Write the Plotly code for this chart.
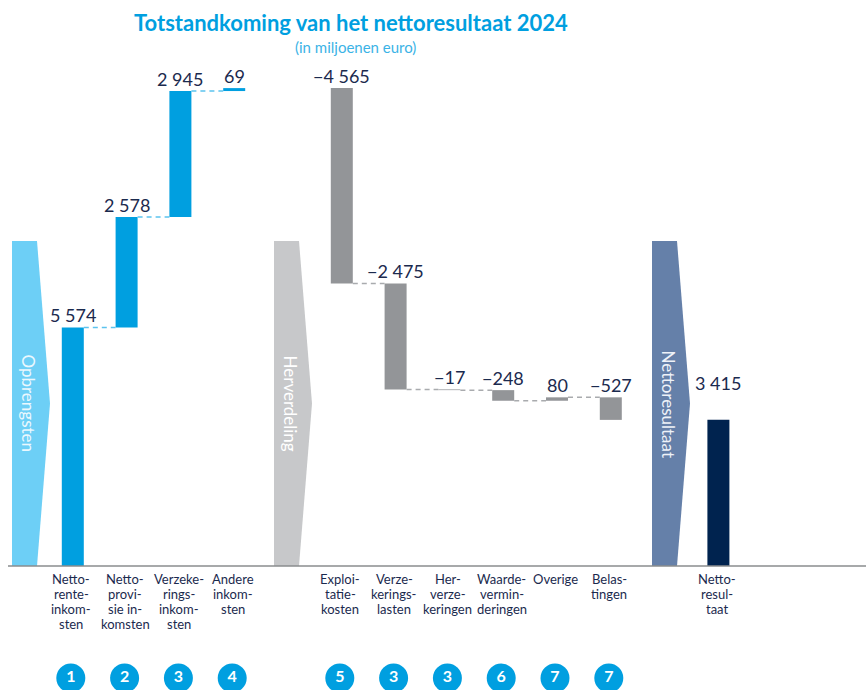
import plotly.graph_objects as go

# ---- data (in miljoenen euro) ----
income_labels = ["Netto-<br>rente-<br>inkom-<br>sten", "Netto-<br>provi-<br>sie in-<br>komsten",
                 "Verzeke-<br>rings-<br>inkom-<br>sten", "Andere<br>inkom-<br>sten"]
income_values = [5574, 2578, 2945, 69]
income_notes = [1, 2, 3, 4]

cost_labels = ["Exploi-<br>tatie-<br>kosten", "Verze-<br>kerings-<br>lasten", "Her-<br>verze-<br>keringen",
               "Waarde-<br>vermin-<br>deringen", "Overige", "Belas-<br>tingen"]
cost_values = [-4565, -2475, -17, -248, 80, -527]
cost_notes = [5, 3, 3, 6, 7, 7]

result_label = "Netto-<br>resul-<br>taat"
result_value = 3415

group_names = ["Opbrengsten", "Herverdeling", "Nettoresultaat"]

# ---- layout constants (pixels) ----
W, H = 866, 690
BASE_PX = 566          # pixel row of the zero line
K = 0.0428             # pixels per million euro
SLOT0, SLOT = 72.8, 53.8
BAR_W = 22
LINE_H = 15.2          # line spacing of the category labels


def val_at(ypx):
    return (BASE_PX - ypx) / K


def fmt(v):
    s = f"{abs(v):,}".replace(",", " ")
    return ("−" + s) if v < 0 else s


BLUE = "#009FE0"
BLUE_DASH = "#5CC3EE"
GREY = "#939598"
GREY_DASH = "#A9ABAE"
NAVY = "#00234F"
TEXT = "#1B2A4E"
FONT = "Lato"

fig = go.Figure()

# slot indices: income 0..3, costs 5..10, result 12
income_x = [SLOT0 + SLOT * i for i in range(4)]
cost_x = [SLOT0 + SLOT * i for i in range(5, 11)]
result_x = SLOT0 + SLOT * 12

# running totals
starts, ends = [], []
run = 0
for v in income_values + cost_values:
    starts.append(run)
    run += v
    ends.append(run)
inc_starts, inc_ends = starts[:4], ends[:4]
cost_starts, cost_ends = starts[4:], ends[4:]

# ---- group arrows ----
arrow_specs = [
    (group_names[0], 12, 37, 50, "#6DCFF6", "#EAF8FE"),
    (group_names[1], 274, 299, 312, "#C7C8CA", "#FFFFFF"),
    (group_names[2], 652, 677, 690, "#6580A9", "#EEF2F8"),
]
top_v, mid_v = val_at(241), val_at(403.5)
shapes = []
annotations = []
for name, xl, xr, xt, col, tcol in arrow_specs:
    path = f"M {xl},0 L {xl},{top_v} L {xr},{top_v} L {xt},{mid_v} L {xr},0 Z"
    shapes.append(dict(type="path", path=path, xref="x", yref="y",
                       fillcolor=col, line=dict(width=0), layer="below"))
    annotations.append(dict(x=xl + 16, y=mid_v, text=name, showarrow=False, textangle=90,
                            font=dict(family=FONT, size=17, color=tcol),
                            xanchor="center", yanchor="middle"))

# baseline
shapes.append(dict(type="line", x0=8, x1=W, y0=0, y1=0, xref="x", yref="y",
                   line=dict(color="#8A8C8E", width=1.5)))

# ---- bars ----
fig.add_trace(go.Bar(x=income_x, y=income_values, base=inc_starts, width=BAR_W,
                     marker=dict(color=BLUE, line=dict(width=0)), hoverinfo="skip"))
fig.add_trace(go.Bar(x=cost_x, y=cost_values, base=cost_starts, width=BAR_W,
                     marker=dict(color=GREY, line=dict(width=0)), hoverinfo="skip"))
fig.add_trace(go.Bar(x=[result_x], y=[result_value], base=[0], width=BAR_W,
                     marker=dict(color=NAVY, line=dict(width=0)), hoverinfo="skip"))


# ---- dashed connectors ----
def connectors(xs, levels, color):
    cx, cy = [], []
    for i in range(len(xs) - 1):
        cx += [xs[i] + BAR_W / 2, xs[i + 1] - BAR_W / 2, None]
        cy += [levels[i], levels[i], None]
    fig.add_trace(go.Scatter(x=cx, y=cy, mode="lines", hoverinfo="skip",
                             line=dict(color=color, width=1.5, dash="5px,4px")))


connectors(income_x, inc_ends, BLUE_DASH)
connectors(cost_x, cost_ends, GREY_DASH)

# ---- value labels ----
for x, s, e, v in zip(income_x + cost_x, starts, ends, income_values + cost_values):
    annotations.append(dict(x=x, y=max(s, e), text=fmt(v), showarrow=False, yshift=12,
                            font=dict(family=FONT, size=18, color=TEXT),
                            xanchor="center", yanchor="middle"))
annotations.append(dict(x=result_x, y=result_value, text=fmt(result_value), showarrow=False,
                        yshift=37, font=dict(family=FONT, size=18, color=TEXT),
                        xanchor="center", yanchor="middle"))

# ---- category labels, one annotation per line ----
for x, lab in zip(income_x + cost_x + [result_x], income_labels + cost_labels + [result_label]):
    for j, line in enumerate(lab.split("<br>")):
        annotations.append(dict(x=x - 1.5, y=val_at(578.5 + j * LINE_H), text=line, showarrow=False,
                                font=dict(family=FONT, size=13, color=TEXT),
                                xanchor="center", yanchor="middle"))

# ---- note markers ----
note_x = [x - 2 for x in income_x + cost_x]
fig.add_trace(go.Scatter(x=note_x, y=[val_at(678)] * len(note_x), mode="markers+text",
                         text=[str(n) for n in income_notes + cost_notes],
                         textposition="middle center", cliponaxis=False, hoverinfo="skip",
                         marker=dict(size=29, color=BLUE, line=dict(width=0)),
                         textfont=dict(family=FONT, size=16, color="white", weight="bold")))

# ---- titles ----
annotations.append(dict(x=351, y=val_at(22), text="<b>Totstandkoming van het nettoresultaat 2024</b>",
                        showarrow=False, font=dict(family=FONT, size=22, color=BLUE),
                        xanchor="center", yanchor="middle"))
annotations.append(dict(x=355, y=val_at(47), text="(in miljoenen euro)", showarrow=False,
                        font=dict(family=FONT, size=15, color="#3BB3E6"),
                        xanchor="center", yanchor="middle"))

fig.update_layout(
    width=W, height=H,
    margin=dict(l=0, r=0, t=0, b=0),
    paper_bgcolor="white", plot_bgcolor="white",
    showlegend=False, barmode="overlay",
    xaxis=dict(range=[0, W], visible=False, fixedrange=True),
    yaxis=dict(range=[val_at(H), val_at(0)], visible=False, fixedrange=True),
    shapes=shapes, annotations=annotations,
    font=dict(family=FONT),
)

fig.write_html("out.html", config={"displayModeBar": False, "staticPlot": True})
